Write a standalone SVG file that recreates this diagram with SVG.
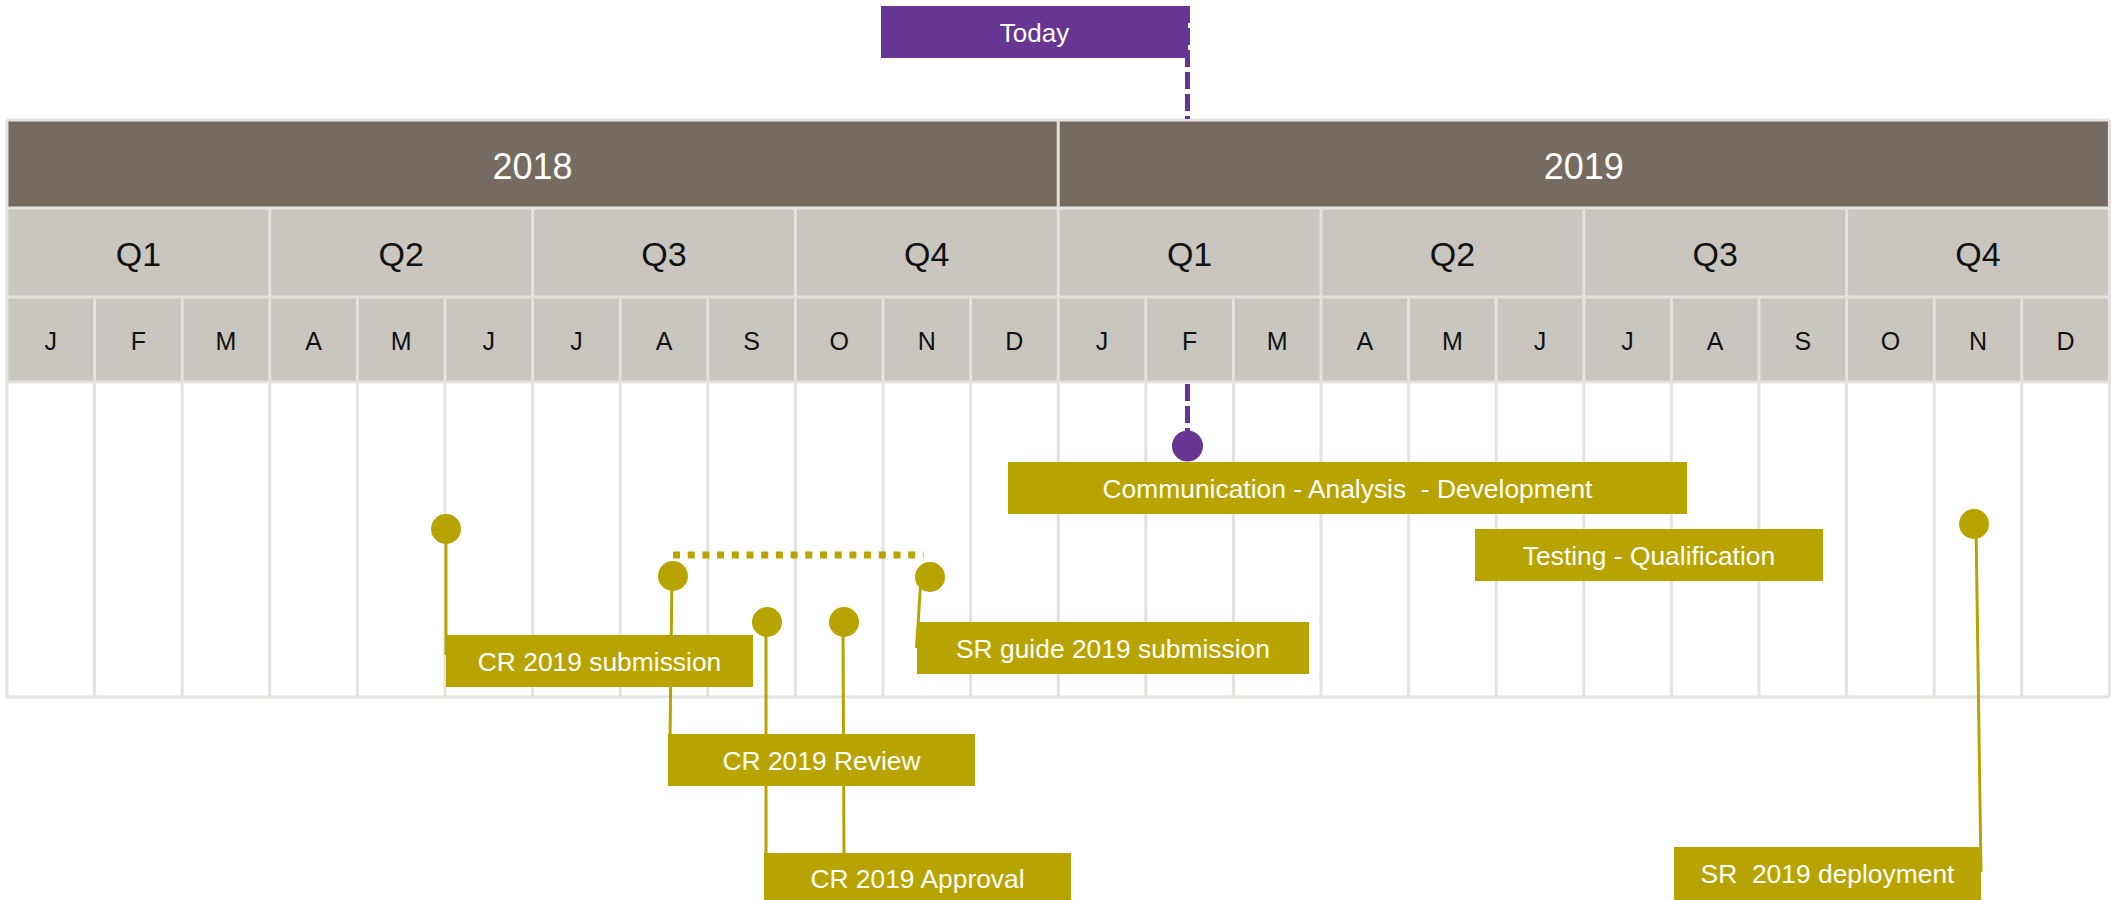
<svg xmlns="http://www.w3.org/2000/svg" width="2114" height="900" viewBox="0 0 2114 900">
<style>
.hdr{font-family:"Liberation Sans",Arial,sans-serif;text-anchor:middle;}
.yr{fill:#ffffff;font-size:36px;}
.qt{fill:#111111;font-size:34px;}
.mo{fill:#111111;font-size:25px;}
.lbl{font-family:"Liberation Sans",Arial,sans-serif;font-size:26.4px;fill:#ffffff;text-anchor:middle;}
.box{fill:#b7a400;}
.dot{fill:#b7a400;}
.lead{stroke:#b7a400;stroke-width:3;fill:none;}
.grid{stroke:#e4e2df;stroke-width:3;fill:none;}
</style>
<rect width="2114" height="900" fill="#ffffff"/>
<g id="timeline-grid">
<rect x="7" y="120" width="2102.4" height="88" fill="#756b60"/>
<rect x="7" y="208" width="2102.4" height="174" fill="#c9c5bf"/>
<rect x="7" y="382" width="2102.4" height="315" fill="#ffffff"/>
<path class="grid" d="M7 120H2109.4M7 208H2109.4M7 297H2109.4M7 382H2109.4M7 697H2109.4M7 120V697M2109.4 120V697M1058.2 120V208M269.8 208V297M532.6 208V297M795.4 208V297M1058.2 208V297M1321 208V297M1583.8 208V297M1846.6 208V297M94.6 297V697M182.2 297V697M269.8 297V697M357.4 297V697M445 297V697M532.6 297V697M620.2 297V697M707.8 297V697M795.4 297V697M883 297V697M970.6 297V697M1058.2 297V697M1145.8 297V697M1233.4 297V697M1321 297V697M1408.6 297V697M1496.2 297V697M1583.8 297V697M1671.4 297V697M1759 297V697M1846.6 297V697M1934.2 297V697M2021.8 297V697"/>
<text class="hdr yr" x="532.6" y="179">2018</text>
<text class="hdr yr" x="1583.8" y="179">2019</text>
<g class="hdr qt">
<text x="138.4" y="266">Q1</text><text x="401.2" y="266">Q2</text><text x="664" y="266">Q3</text><text x="926.8" y="266">Q4</text>
<text x="1189.6" y="266">Q1</text><text x="1452.4" y="266">Q2</text><text x="1715.2" y="266">Q3</text><text x="1978" y="266">Q4</text>
</g>
<g class="hdr mo">
<text x="50.8" y="350">J</text><text x="138.4" y="350">F</text><text x="226" y="350">M</text><text x="313.6" y="350">A</text><text x="401.2" y="350">M</text><text x="488.8" y="350">J</text>
<text x="576.4" y="350">J</text><text x="664" y="350">A</text><text x="751.6" y="350">S</text><text x="839.2" y="350">O</text><text x="926.8" y="350">N</text><text x="1014.4" y="350">D</text>
<text x="1102" y="350">J</text><text x="1189.6" y="350">F</text><text x="1277.2" y="350">M</text><text x="1364.8" y="350">A</text><text x="1452.4" y="350">M</text><text x="1540" y="350">J</text>
<text x="1627.6" y="350">J</text><text x="1715.2" y="350">A</text><text x="1802.8" y="350">S</text><text x="1890.4" y="350">O</text><text x="1978" y="350">N</text><text x="2065.6" y="350">D</text>
</g>
</g>
<g id="connectors">
<line x1="1187.5" y1="6" x2="1187.5" y2="119" stroke="#673592" stroke-width="5" stroke-dasharray="17 5"/>
<line x1="1187.5" y1="384" x2="1187.5" y2="432" stroke="#673592" stroke-width="5" stroke-dasharray="17 5"/>
<line class="lead" x1="446" y1="529" x2="446" y2="655"/>
<line class="lead" x1="672" y1="576" x2="670" y2="740"/>
<line class="lead" x1="766" y1="622" x2="766" y2="858"/>
<line class="lead" x1="843" y1="622" x2="844" y2="858"/>
<line class="lead" x1="921" y1="578" x2="916.5" y2="648"/>
<line class="lead" x1="1976" y1="526" x2="1981" y2="872"/>
<line x1="673" y1="555" x2="923.5" y2="555" stroke="#b7a400" stroke-width="7" stroke-dasharray="7 7.7"/>
</g>
<g id="today">
<rect x="881" y="6" width="307" height="52" fill="#673592"/>
<text x="1034.5" y="42" class="lbl" style="font-size:26px">Today</text>
</g>
<g id="today-marker">
<circle cx="1187.5" cy="446" r="15.5" fill="#673592"/>
</g>
<g id="cr-submission">
<circle class="dot" cx="446" cy="529" r="15"/>
<rect class="box" x="446" y="635" width="307" height="52"/>
<text class="lbl" x="599.5" y="670.5">CR 2019 submission</text>
</g>
<g id="cr-review">
<circle class="dot" cx="673" cy="576" r="15"/>
<rect class="box" x="668" y="734" width="307" height="52"/>
<text class="lbl" x="821.5" y="769.5">CR 2019 Review</text>
</g>
<g id="cr-approval">
<circle class="dot" cx="767" cy="622" r="15"/>
<circle class="dot" cx="844" cy="622" r="15"/>
<rect class="box" x="764" y="853" width="307" height="52"/>
<text class="lbl" x="917.5" y="888">CR 2019 Approval</text>
</g>
<g id="sr-guide-submission">
<circle class="dot" cx="930" cy="577" r="15"/>
<rect class="box" x="917" y="622" width="392" height="52"/>
<text class="lbl" x="1113" y="657.5">SR guide 2019 submission</text>
</g>
<g id="communication-analysis-development">
<rect class="box" x="1008" y="462" width="679" height="52"/>
<text class="lbl" x="1347.5" y="497.5" xml:space="preserve">Communication - Analysis  - Development</text>
</g>
<g id="testing-qualification">
<rect class="box" x="1475" y="529" width="348" height="52"/>
<text class="lbl" x="1649" y="564.5">Testing - Qualification</text>
</g>
<g id="sr-deployment">
<circle class="dot" cx="1974" cy="524" r="15"/>
<rect class="box" x="1674" y="847" width="307" height="53"/>
<text class="lbl" x="1827.5" y="882.5" xml:space="preserve">SR  2019 deployment</text>
</g>
</svg>
